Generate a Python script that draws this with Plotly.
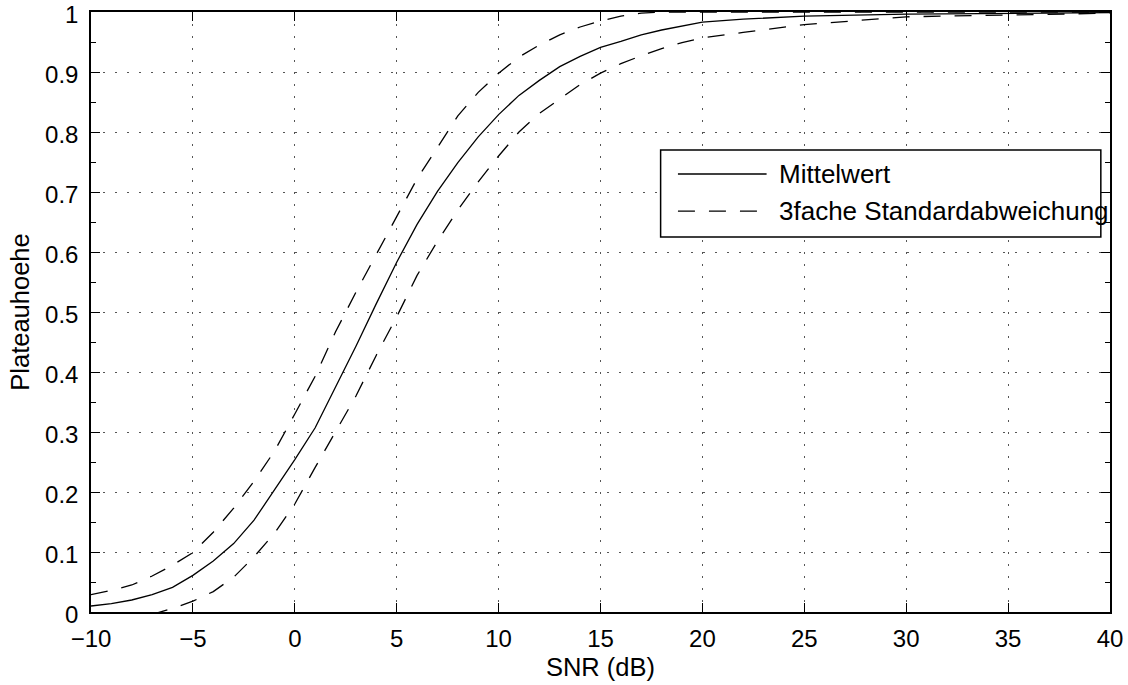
import plotly.graph_objects as go

# SNR grid in dB
snr_db = [-10, -9, -8, -7, -6, -5, -4, -3, -2, -1, 0, 1, 2, 3, 4, 5, 6, 7, 8, 9,
          10, 11, 12, 13, 14, 15, 16, 17, 18, 19, 20, 22, 25, 30, 35, 40]

# mean plateau height
mean_vals = [0.010, 0.014, 0.020, 0.029, 0.041, 0.061, 0.085, 0.114, 0.153, 0.203,
             0.254, 0.307, 0.375, 0.443, 0.514, 0.583, 0.646, 0.701, 0.749, 0.792,
             0.829, 0.861, 0.886, 0.909, 0.926, 0.941, 0.951, 0.962, 0.970, 0.977,
             0.983, 0.988, 0.993, 0.9965, 0.998, 0.999]

# mean + 3 sigma
upper_vals = [0.029, 0.036, 0.045, 0.060, 0.078, 0.099, 0.133, 0.173, 0.218, 0.268,
              0.330, 0.393, 0.467, 0.533, 0.596, 0.660, 0.722, 0.774, 0.827, 0.866,
              0.898, 0.925, 0.945, 0.962, 0.975, 0.985, 0.993, 0.998, 1.000, 1.000,
              1.000, 1.000, 1.000, 1.000, 1.000, 1.000]

# mean - 3 sigma
lower_vals = [-0.030, -0.020, -0.011, -0.004, 0.006, 0.018, 0.034, 0.058, 0.092, 0.131,
              0.180, 0.241, 0.300, 0.360, 0.428, 0.492, 0.561, 0.618, 0.670, 0.717,
              0.760, 0.800, 0.831, 0.855, 0.879, 0.898, 0.914, 0.927, 0.939, 0.949,
              0.957, 0.966, 0.979, 0.992, 0.9955, 0.998]

x_ticks = [-10, -5, 0, 5, 10, 15, 20, 25, 30, 35, 40]
y_ticks = [0, 0.1, 0.2, 0.3, 0.4, 0.5, 0.6, 0.7, 0.8, 0.9, 1]
y_ticktext = ["0", "0.1", "0.2", "0.3", "0.4", "0.5", "0.6", "0.7", "0.8", "0.9", "1"]
legend_labels = ["Mittelwert", "3fache Standardabweichung"]

FONT = "Liberation Sans, Arial, Helvetica, sans-serif"
FS_TICK = 24
FS_TITLE = 25.5
FS_LEG = 26
DASH = "17px,14px"

fig = go.Figure()
fig.add_trace(go.Scatter(x=snr_db, y=mean_vals, mode="lines", name=legend_labels[0],
                         line=dict(color="black", width=1.3), showlegend=False))
fig.add_trace(go.Scatter(x=snr_db, y=upper_vals, mode="lines", name=legend_labels[1],
                         line=dict(color="black", width=1.3, dash=DASH), showlegend=False))
fig.add_trace(go.Scatter(x=snr_db, y=lower_vals, mode="lines", name=legend_labels[1],
                         line=dict(color="black", width=1.3, dash=DASH), showlegend=False))

axis_common = dict(
    showline=True, linecolor="black", linewidth=1.5, mirror="ticks",
    ticks="inside", ticklen=9, tickwidth=1.3, tickcolor="black",
    showgrid=True, gridcolor="#555555", gridwidth=1, griddash="2px,10px",
    zeroline=False, ticklabeloverflow="allow",
    tickfont=dict(family=FONT, size=FS_TICK, color="black"),
)

fig.update_xaxes(range=[-10, 40], tickvals=x_ticks, ticklabelstandoff=4,
                 title=dict(text="SNR (dB)", font=dict(family=FONT, size=FS_TITLE, color="black"), standoff=8),
                 **axis_common)
fig.update_yaxes(range=[0, 1], tickvals=y_ticks, ticktext=y_ticktext,
                 ticklabelstandoff=6, ticklabelshift=3,
                 minor=dict(dtick=0.05, ticks="inside", ticklen=5, tickwidth=1.3,
                            tickcolor="black", showgrid=False),
                 title=dict(text="Plateauhoehe", font=dict(family=FONT, size=FS_TITLE, color="black"), standoff=8),
                 **axis_common)

# legend box drawn in paper coordinates
fig.add_shape(type="rect", xref="paper", yref="paper", x0=0.559, x1=0.991, y0=0.625, y1=0.770,
              line=dict(color="black", width=1.5), fillcolor="white", layer="above")
fig.add_shape(type="line", xref="paper", yref="paper", x0=0.576, x1=0.663, y0=0.730, y1=0.730,
              line=dict(color="black", width=1.3), layer="above")
fig.add_shape(type="line", xref="paper", yref="paper", x0=0.576, x1=0.659, y0=0.668, y1=0.668,
              line=dict(color="black", width=1.3, dash=DASH), layer="above")
for label, yy in zip(legend_labels, [0.730, 0.668]):
    fig.add_annotation(text=label, xref="paper", yref="paper", x=0.673, y=yy,
                       xanchor="left", yanchor="middle", showarrow=False,
                       font=dict(family=FONT, size=FS_LEG, color="black"))

fig.update_layout(
    width=1128, height=685,
    margin=dict(l=91, r=18, t=12, b=73, autoexpand=False),
    plot_bgcolor="white", paper_bgcolor="white",
    font=dict(family=FONT, size=FS_TICK, color="black"),
)

fig.write_html("out.html")
